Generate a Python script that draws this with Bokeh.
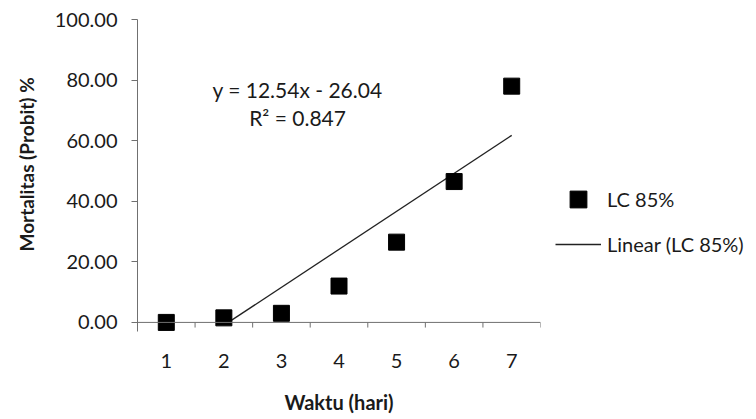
from bokeh.plotting import figure
from bokeh.models import Range1d, FixedTicker, NumeralTickFormatter, Label, Span, Legend, LegendItem, Title
from bokeh.embed import file_html
from bokeh.resources import INLINE

# ---- data ----
days = [1, 2, 3, 4, 5, 6, 7]
mortality = [0.0, 1.5, 3.0, 12.0, 26.5, 46.5, 78.0]
slope = 12.54
intercept = -26.04
r_squared = 0.847
y_ticks = [0, 20, 40, 60, 80, 100]
series_name = "LC 85%"
trend_name = "Linear (LC 85%)"
x_title = "Waktu (hari)"
y_title = "Mortalitas (Probit) %"

FONT = "Lato"
TXT = "#1a1a1a"
AX = "#707070"

p = figure(frame_width=403, frame_height=312,
           x_range=Range1d(0.5, 7.5), y_range=Range1d(-3, 100),
           output_backend="svg", toolbar_location=None,
           min_border_left=137, min_border_right=216,
           min_border_top=19, min_border_bottom=88)
p.grid.visible = False
p.outline_line_color = None
p.background_fill_color = "white"
p.border_fill_color = "white"

# y axis
p.yaxis.ticker = FixedTicker(ticks=y_ticks)
p.yaxis.formatter = NumeralTickFormatter(format="0.00")
p.yaxis.axis_line_color = AX
p.yaxis.major_tick_line_color = AX
p.yaxis.major_tick_out = 6
p.yaxis.major_tick_in = 0
p.yaxis.minor_tick_line_color = None
p.yaxis.major_label_standoff = 14
p.yaxis.major_label_text_font = FONT
p.yaxis.major_label_text_font_size = "20px"
p.yaxis.major_label_text_color = TXT

ytitle = Title(text=y_title, align="left", offset=80, vertical_align="top", standoff=24,
               text_font=FONT, text_font_size="19px", text_font_style="bold", text_color=TXT)
p.add_layout(ytitle, "left")

# x axis (labels only; line drawn at y=0)
p.xaxis.ticker = FixedTicker(ticks=days)
p.xaxis.axis_line_color = None
p.xaxis.major_tick_line_color = None
p.xaxis.major_tick_out = 0
p.xaxis.major_tick_in = 0
p.xaxis.minor_tick_line_color = None
p.xaxis.major_label_standoff = 22
p.xaxis.major_label_text_font = FONT
p.xaxis.major_label_text_font_size = "20px"
p.xaxis.major_label_text_color = TXT
p.xaxis.axis_label = x_title
p.xaxis.axis_label_text_font = FONT
p.xaxis.axis_label_text_font_size = "20px"
p.xaxis.axis_label_text_font_style = "bold"
p.xaxis.axis_label_text_color = TXT
p.xaxis.axis_label_standoff = 19

p.add_layout(Span(location=0, dimension="width", line_color=AX, line_width=1))
tick_x = [d + 0.5 for d in days]
p.segment(x0=tick_x, y0=[0] * len(tick_x), x1=tick_x, y1=[-1.7] * len(tick_x),
          line_color=AX, line_width=1)

# trend line
x_start = -intercept / slope
x_end = days[-1]
trend = p.line([x_start, x_end], [slope * x_start + intercept, slope * x_end + intercept],
               line_color="#222222", line_width=1.3)

# points
pts = p.scatter(days, mortality, marker="square", size=16, fill_color="black", line_color="black")

# equation labels
p.add_layout(Label(x=3.28, y=76.9, text=f"y = {slope}x - {abs(intercept)}",
                   text_align="center", text_baseline="middle",
                   text_font=FONT, text_font_size="21px", text_color=TXT))
p.add_layout(Label(x=3.28, y=67.7, text=f"R² = {r_squared}",
                   text_align="center", text_baseline="middle",
                   text_font=FONT, text_font_size="21px", text_color=TXT))

legend = Legend(items=[LegendItem(label=series_name, renderers=[pts]),
                       LegendItem(label=trend_name, renderers=[trend])],
                location=(15, 66), padding=0, margin=0, spacing=3,
                glyph_width=46, glyph_height=42, label_height=20, label_standoff=6,
                label_text_font=FONT, label_text_font_size="20px", label_text_color=TXT,
                background_fill_alpha=0, border_line_color=None)
p.add_layout(legend, "right")

open("out.html", "w").write(file_html(p, INLINE))
